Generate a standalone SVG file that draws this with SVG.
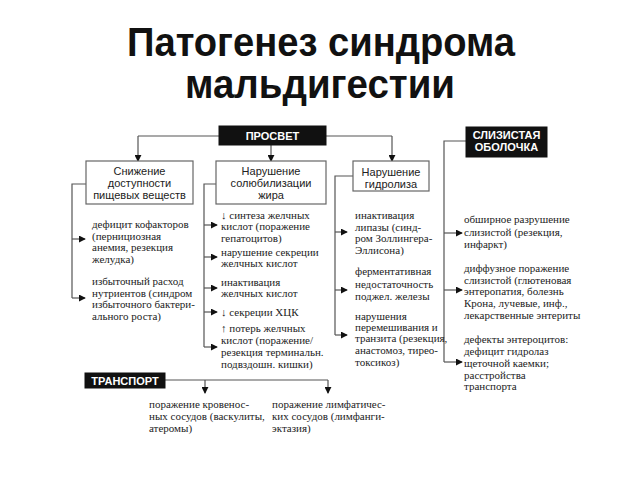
<svg xmlns="http://www.w3.org/2000/svg" width="640" height="480" viewBox="0 0 640 480">
<defs>
<marker id="ah" viewBox="0 0 8 8" refX="7" refY="4" markerWidth="7" markerHeight="7" markerUnits="userSpaceOnUse" orient="auto">
<path d="M0,0 L8,4 L0,8 Z" fill="#111"/>
</marker>
<style>
.title{font-family:"Liberation Sans",Arial,sans-serif;font-weight:bold;font-size:40px;fill:#111;text-anchor:middle}
.box{fill:#fff;stroke:#666;stroke-width:1.2}
.blk{fill:#111;stroke:#111}
.bt{font-family:"Liberation Sans",Arial,sans-serif;font-size:11px;fill:#222;text-anchor:middle}
.wt{font-family:"Liberation Sans",Arial,sans-serif;font-size:11px;font-weight:bold;fill:#fff;text-anchor:middle}
.st{font-family:"Liberation Serif","Times New Roman","DejaVu Serif",serif;font-size:11px;fill:#222}
.ln{fill:none;stroke:#555;stroke-width:1.2}
.ar{fill:none;stroke:#555;stroke-width:1.2;marker-end:url(#ah)}
</style>
</defs>
<rect width="640" height="480" fill="#fff"/>
<text class="title" x="321" y="56" textLength="388" lengthAdjust="spacingAndGlyphs">Патогенез синдрома</text>
<text class="title" x="320" y="98" textLength="270" lengthAdjust="spacingAndGlyphs">мальдигестии</text>

<g id="connectors">
<path class="ln" d="M138,136 H392"/>
<path class="ar" d="M138,136 V161"/>
<path class="ar" d="M271,145 V161"/>
<path class="ar" d="M392,136 V161"/>
<path class="ln" d="M86,184 H72 V298"/>
<path class="ar" d="M72,239 H85"/>
<path class="ar" d="M72,298 H85"/>
<path class="ln" d="M216,184 H204 V347"/>
<path class="ar" d="M204,225 H217"/>
<path class="ar" d="M204,257 H217"/>
<path class="ar" d="M204,288 H217"/>
<path class="ar" d="M204,312 H217"/>
<path class="ar" d="M204,347 H217"/>
<path class="ln" d="M353,176 H335 V335"/>
<path class="ar" d="M335,232 H347"/>
<path class="ar" d="M335,290 H347"/>
<path class="ar" d="M335,335 H347"/>
<path class="ln" d="M466,141 H444 V362"/>
<path class="ar" d="M444,233 H462"/>
<path class="ar" d="M444,290 H462"/>
<path class="ar" d="M444,362 H462"/>
<path class="ln" d="M165,380 H328"/>
<path class="ar" d="M205,380 V393"/>
<path class="ar" d="M328,380 V393"/>
</g>

<g id="prosvet">
<rect class="blk" x="219" y="126" width="107" height="19"/>
<text class="wt" x="272.5" y="140">ПРОСВЕТ</text>
</g>
<g id="slizistaya">
<rect class="blk" x="466" y="127" width="81" height="30"/>
<text class="wt" x="506.5" y="139">СЛИЗИСТАЯ</text>
<text class="wt" x="506.5" y="151">ОБОЛОЧКА</text>
</g>
<g id="transport">
<rect class="blk" x="85" y="373" width="80" height="15"/>
<text class="wt" x="125" y="384.5">ТРАНСПОРТ</text>
</g>

<g id="snizhenie">
<rect class="box" x="86" y="161" width="107" height="43"/>
<text class="bt" x="139.5" y="175">Снижение</text>
<text class="bt" x="139.5" y="187">доступности</text>
<text class="bt" x="139.5" y="199">пищевых веществ</text>
</g>
<g id="solub">
<rect class="box" x="216" y="161" width="110" height="43"/>
<text class="bt" x="271" y="175">Нарушение</text>
<text class="bt" x="271" y="187">солюбилизации</text>
<text class="bt" x="271" y="199">жира</text>
</g>
<g id="gidroliz">
<rect class="box" x="353" y="161" width="76" height="30"/>
<text class="bt" x="391" y="175.5">Нарушение</text>
<text class="bt" x="391" y="187.5">гидролиза</text>
</g>

<g id="col1">
<text class="st" x="92" y="228">дефицит кофакторов</text>
<text class="st" x="92" y="239.5">(пернициозная</text>
<text class="st" x="92" y="251">анемия, резекция</text>
<text class="st" x="92" y="262.5">желудка)</text>
<text class="st" x="92" y="285">избыточный расход</text>
<text class="st" x="92" y="296.5">нутриентов (синдром</text>
<text class="st" x="92" y="308">избыточного бактери-</text>
<text class="st" x="92" y="319.5">ального роста)</text>
</g>

<g id="col2">
<text class="st" x="221" y="219">↓ синтеза желчных</text>
<text class="st" x="221" y="230">кислот (поражение</text>
<text class="st" x="221" y="242">гепатоцитов)</text>
<text class="st" x="221" y="256">нарушение секреции</text>
<text class="st" x="221" y="267">желчных кислот</text>
<text class="st" x="221" y="286">инактивация</text>
<text class="st" x="221" y="297">желчных кислот</text>
<text class="st" x="221" y="316">↓ секреции ХЦК</text>
<text class="st" x="221" y="332">↑ потерь желчных</text>
<text class="st" x="221" y="344">кислот (поражение/</text>
<text class="st" x="221" y="356">резекция терминальн.</text>
<text class="st" x="221" y="368">подвздошн. кишки)</text>
</g>

<g id="col3">
<text class="st" x="355" y="219">инактивация</text>
<text class="st" x="355" y="231">липазы (синд-</text>
<text class="st" x="355" y="242">ром Золлингера-</text>
<text class="st" x="355" y="254">Эллисона)</text>
<text class="st" x="355" y="275">ферментативная</text>
<text class="st" x="355" y="288">недостаточность</text>
<text class="st" x="355" y="300">поджел. железы</text>
<text class="st" x="355" y="320">нарушения</text>
<text class="st" x="355" y="331">перемешивания и</text>
<text class="st" x="355" y="342">транзита (резекция,</text>
<text class="st" x="355" y="354">анастомоз, тирео-</text>
<text class="st" x="355" y="366">токсикоз)</text>
</g>

<g id="col4">
<text class="st" x="464" y="223">обширное разрушение</text>
<text class="st" x="464" y="236">слизистой (резекция,</text>
<text class="st" x="464" y="248">инфаркт)</text>
<text class="st" x="464" y="272">диффузное поражение</text>
<text class="st" x="464" y="284">слизистой (глютеновая</text>
<text class="st" x="464" y="295">энтеропатия, болезнь</text>
<text class="st" x="464" y="307">Крона, лучевые, инф.,</text>
<text class="st" x="464" y="319">лекарственные энтериты</text>
<text class="st" x="464" y="343">дефекты энтероцитов:</text>
<text class="st" x="464" y="355">дефицит гидролаз</text>
<text class="st" x="464" y="367">щеточной каемки;</text>
<text class="st" x="464" y="379">расстройства</text>
<text class="st" x="464" y="390">транспорта</text>
</g>

<g id="col5">
<text class="st" x="149" y="408">поражение кровенос-</text>
<text class="st" x="149" y="420">ных сосудов (васкулиты,</text>
<text class="st" x="149" y="432">атеромы)</text>
<text class="st" x="272" y="408">поражение лимфатичес-</text>
<text class="st" x="272" y="420">ких сосудов (лимфанги-</text>
<text class="st" x="272" y="432">эктазия)</text>
</g>
</svg>
